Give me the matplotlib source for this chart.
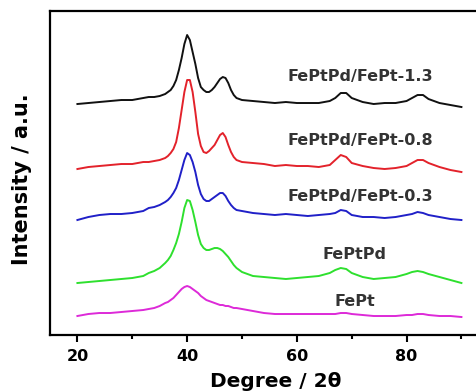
import numpy as np
import matplotlib
matplotlib.use('Agg')
import matplotlib.pyplot as plt

plt.rcParams['font.family'] = ['DejaVu Sans']

# 2-theta positions shared by all patterns
deg = [20, 22, 24, 26, 28, 30, 32, 33, 34, 35,
       36, 36.5, 37, 37.5, 38, 38.5, 39, 39.5, 40, 40.5, 41, 41.5, 42, 42.5,
       43, 43.5, 44, 44.5, 45, 45.5, 46, 46.5, 47, 47.5, 48, 48.5, 49,
       50, 52, 54, 56, 58, 60, 62, 64, 66, 67, 68, 69, 70, 72, 74, 76, 78, 80,
       81, 82, 83, 84, 86, 88, 90]

# stacked intensities (arbitrary units, offsets included)
fept_13 = [231, 232, 233, 234, 235, 235, 237, 238, 238, 239,
           241, 243, 245, 249, 255, 265, 277, 291, 300, 295, 283, 271, 257, 248,
           245, 243, 243, 245, 248, 252, 256, 258, 257, 252, 245, 240, 237,
           235, 234, 233, 232, 233, 232, 232, 232, 234, 237, 242, 242, 237, 233,
           231, 232, 232, 234, 237, 240, 240, 236, 232, 230, 228]
fept_08 = [166, 168, 169, 170, 171, 171, 173, 173, 174, 175,
           177, 179, 182, 186, 193, 207, 225, 243, 255, 255, 243, 223, 201, 189,
           183, 182, 184, 187, 190, 195, 200, 202, 198, 190, 183, 178, 175,
           173, 172, 171, 169, 170, 169, 169, 168, 170, 175, 180, 178, 172, 169,
           167, 166, 167, 169, 172, 175, 175, 172, 168, 165, 163]
fept_03 = [115, 118, 120, 121, 121, 122, 124, 127, 128, 130,
           133, 135, 138, 142, 147, 155, 165, 175, 182, 180, 173, 163, 150, 141,
           136, 134, 134, 136, 138, 140, 142, 142, 139, 134, 130, 127, 125,
           124, 122, 121, 120, 121, 120, 119, 120, 121, 122, 125, 124, 120, 118,
           118, 117, 118, 120, 121, 123, 122, 120, 118, 116, 115]
feptpd = [52, 53, 54, 55, 56, 57, 59, 62, 64, 67,
          72, 75, 79, 85, 92, 101, 113, 127, 135, 134, 125, 113, 100, 91,
          87, 85, 85, 86, 87, 87, 86, 84, 81, 78, 74, 70, 67,
          63, 59, 58, 57, 56, 57, 58, 59, 62, 65, 67, 66, 62, 58,
          56, 57, 58, 61, 63, 64, 63, 61, 58, 55, 52]
fept = [19, 21, 22, 22, 23, 24, 25, 26, 27, 29,
        32, 33, 35, 37, 40, 43, 46, 48, 49, 48, 46, 44, 42, 39,
        37, 35, 34, 33, 32, 31, 30, 30, 29, 29, 28, 27, 27,
        26, 24, 22, 21, 21, 21, 21, 21, 21, 21, 22, 22, 21, 20,
        19, 19, 19, 20, 20, 21, 21, 20, 19, 19, 18]

series = [fept_13, fept_08, fept_03, feptpd, fept]
colors = ['#111111', '#e3222b', '#2020c8', '#2ee02e', '#dd2ad8']
labels = ['FePtPd/FePt-1.3', 'FePtPd/FePt-0.8', 'FePtPd/FePt-0.3', 'FePtPd', 'FePt']
label_x = [71.5, 71.5, 71.5, 70.5, 70.5]
label_y = [259, 195, 139, 81, 34]

fig = plt.figure(figsize=(4.76, 3.92), dpi=100)
ax = fig.add_axes([0.105, 0.1454, 0.922, 0.8265])

for y, c in zip(series, colors):
    ax.plot(deg, y, color=c, lw=1.4)

for t, x, y in zip(labels, label_x, label_y):
    ax.text(x, y, t, ha='center', va='center', fontsize=11.5,
            fontweight='bold', color='#333333')

ax.set_xlim(15, 95)
ax.set_ylim(0, 324)
ax.set_yticks([])
ax.set_xticks([20, 40, 60, 80])
ax.set_xticks([30, 50, 70, 90], minor=True)
ax.tick_params(axis='x', which='major', direction='out', length=5, width=1.5,
               labelsize=11.5, pad=5)
ax.tick_params(axis='x', which='minor', direction='out', length=3, width=1.5)
for lab in ax.get_xticklabels():
    lab.set_fontweight('bold')
for s in ax.spines.values():
    s.set_linewidth(1.6)

ax.set_xlabel('Degree / 2θ', fontsize=14.5, fontweight='bold')
ax.set_ylabel('Intensity / a.u.', fontsize=15, fontweight='bold')
ax.xaxis.set_label_coords(0.515, -0.113)
ax.yaxis.set_label_coords(-0.041, 0.48)

plt.savefig('out.png', dpi=100)
